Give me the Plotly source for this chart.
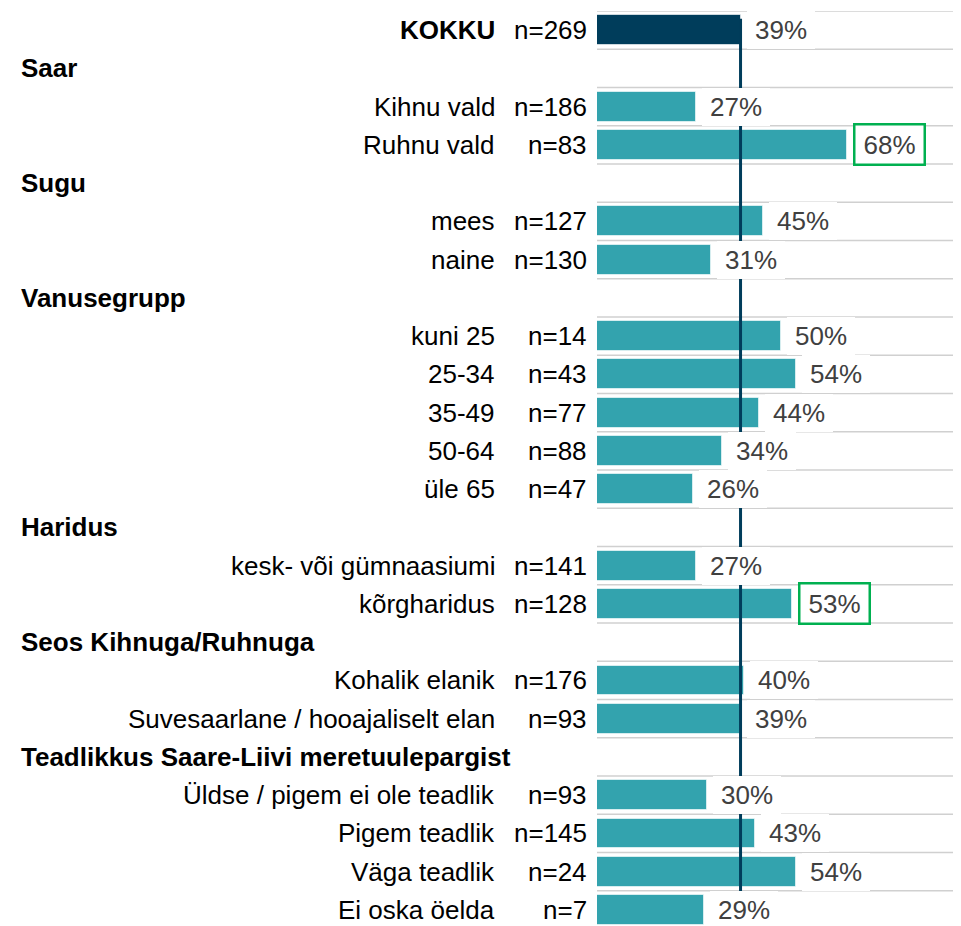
import plotly.graph_objects as go

# Row labels, group headers have no n / share
labels = [
    "KOKKU", "Saar", "Kihnu vald", "Ruhnu vald", "Sugu", "mees", "naine",
    "Vanusegrupp", "kuni 25", "25-34", "35-49", "50-64", "üle 65",
    "Haridus", "kesk- või gümnaasiumi", "kõrgharidus",
    "Seos Kihnuga/Ruhnuga", "Kohalik elanik", "Suvesaarlane / hooajaliselt elan",
    "Teadlikkus Saare-Liivi meretuulepargist", "Üldse / pigem ei ole teadlik",
    "Pigem teadlik", "Väga teadlik", "Ei oska öelda",
]
n_values = [269, None, 186, 83, None, 127, 130, None, 14, 43, 77, 88, 47,
            None, 141, 128, None, 176, 93, None, 93, 145, 24, 7]
shares = [39, None, 27, 68, None, 45, 31, None, 50, 54, 44, 34, 26,
          None, 27, 53, None, 40, 39, None, 30, 43, 54, 29]
highlighted = ["Ruhnu vald", "kõrgharidus"]
total_share = shares[0]

NAVY = "#003d5b"
TEAL = "#33a3ae"
GREEN = "#00b050"
FONT = "Liberation Sans, Arial, sans-serif"

rows = list(range(len(labels)))
bar_y = [r for r in rows if shares[r] is not None]
bar_x = [shares[r] for r in bar_y]
bar_colors = [NAVY if r == 0 else TEAL for r in bar_y]

fig = go.Figure()
fig.add_trace(go.Bar(
    x=bar_x,
    y=bar_y,
    orientation="h",
    width=0.78,
    marker_color=bar_colors,
    marker_line_color="rgba(255,255,255,0.6)",
    marker_line_width=1,
    hoverinfo="skip",
))

# horizontal grid lines at every row boundary
for r in range(len(labels) + 1):
    fig.add_shape(type="line", xref="paper", yref="y", x0=0, x1=1,
                  y0=r - 0.5, y1=r - 0.5, layer="below",
                  line=dict(color="#d0d0d0", width=1.5))

# reference line at the total value
fig.add_shape(type="line", xref="x", yref="y", x0=total_share, x1=total_share,
              y0=-0.3, y1=len(labels) - 0.5, layer="above",
              line=dict(color=NAVY, width=3))

for r in rows:
    lab = labels[r]
    if n_values[r] is None:
        # group header
        fig.add_annotation(x=0, y=r, xref="paper", yref="y", text=f"<b>{lab}</b>",
                           xanchor="left", xshift=-578, showarrow=False,
                           font=dict(size=26, color="#000000", family=FONT))
        continue
    text = f"<b>{lab}</b>" if r == 0 else lab
    fig.add_annotation(x=0, y=r, xref="paper", yref="y", text=text,
                       xanchor="right", xshift=-100, showarrow=False,
                       font=dict(size=26, color="#000000", family=FONT))
    fig.add_annotation(x=0, y=r, xref="paper", yref="y", text=f"n={n_values[r]}",
                       xanchor="right", xshift=-8, showarrow=False,
                       font=dict(size=26, color="#000000", family=FONT))
    hl = lab in highlighted
    fig.add_annotation(x=shares[r], y=r, xref="x", yref="y", text=f"{shares[r]}%",
                       xanchor="left", xshift=6, showarrow=False,
                       width=64, height=34, borderpad=2,
                       bgcolor="white",
                       bordercolor=GREEN if hl else "rgba(0,0,0,0)",
                       borderwidth=2.5 if hl else 0,
                       font=dict(size=26, color="#404040", family=FONT))

# page body adds an 8px offset, so the figure is sized to fit the window
fig.update_layout(
    width=953,
    height=918,
    margin=dict(l=589, r=0, t=3, b=0),
    paper_bgcolor="white",
    plot_bgcolor="white",
    showlegend=False,
    bargap=0,
    xaxis=dict(range=[0, 98.9], visible=False, fixedrange=True),
    yaxis=dict(range=[len(labels) - 0.58, -0.5], visible=False, fixedrange=True),
)

fig.write_html("out.html")
